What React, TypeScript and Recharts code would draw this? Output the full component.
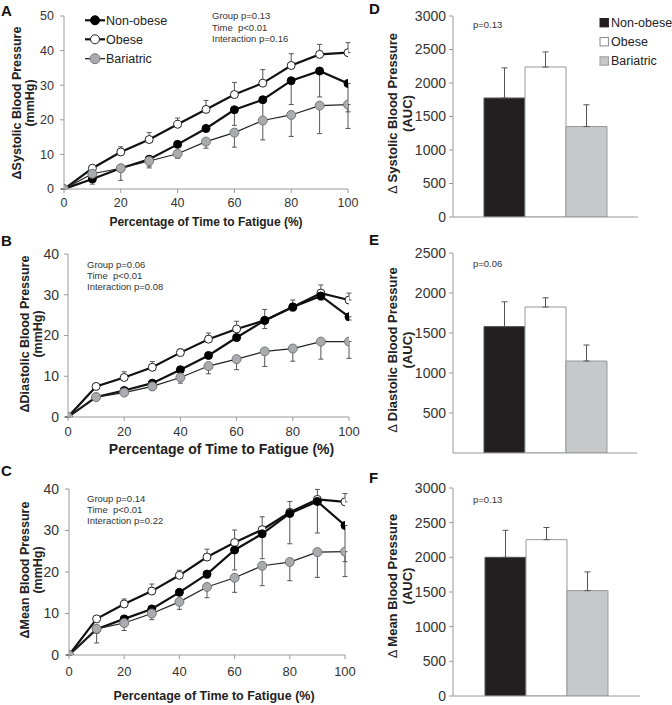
import { LineChart, Line, XAxis, YAxis, ErrorBar, BarChart, Bar, Label } from "recharts";

const FONT = '"Liberation Sans", Arial, sans-serif';

// x positions (% of time to fatigue)
const pct = [0, 10, 20, 30, 40, 50, 60, 70, 80, 90, 100];
const pctTicks = [0, 20, 40, 60, 80, 100];
const groups = ["Non-obese", "Obese", "Bariatric"];

// A: change in systolic BP (mmHg)
const sysNonObese = [0, 2.9, 6.0, 8.6, 12.9, 17.5, 22.9, 25.8, 31.3, 34.1, 30.5];
const sysNonObeseSe = [0, 1.5, 3.5, 2.5, 0.8, 1.0, 4.5, 5.5, 6.9, 7.5, 8.2];
const sysObese = [0, 6.0, 10.7, 14.3, 18.7, 23.0, 27.3, 30.6, 35.7, 38.9, 39.4];
const sysObeseSe = [0, 0.5, 1.5, 2.0, 1.8, 2.6, 3.5, 3.9, 3.4, 2.9, 2.9];
const sysBariatric = [0, 4.4, 6.0, 8.1, 10.2, 13.7, 16.3, 19.8, 21.4, 24.1, 24.4];
const sysBariatricSe = [0, 1.0, 1.0, 1.5, 1.3, 1.9, 4.2, 5.6, 6.2, 8.1, 6.9];

// B: change in diastolic BP (mmHg)
const diaNonObese = [0, 4.9, 6.5, 8.3, 11.6, 15.1, 19.5, 23.7, 27.0, 29.7, 24.6];
const diaNonObeseSe = [0, 0.5, 0.5, 0.6, 0.8, 0.7, 0.8, 2.0, 1.0, 1.0, 0.8];
const diaObese = [0, 7.5, 9.7, 12.2, 15.8, 19.1, 21.6, 23.7, 27.0, 30.4, 28.7];
const diaObeseSe = [0, 0.5, 1.4, 1.4, 0.9, 1.5, 1.9, 2.7, 1.7, 2.0, 1.7];
const diaBariatric = [0, 4.9, 6.0, 7.5, 9.7, 12.5, 14.2, 16.1, 16.8, 18.5, 18.5];
const diaBariatricSe = [0, 0.5, 0.5, 1.0, 1.4, 1.9, 2.6, 3.7, 3.1, 4.3, 4.1];

// C: change in mean BP (mmHg)
const mapNonObese = [0, 6.2, 8.7, 11.1, 15.1, 19.5, 25.3, 29.2, 34.1, 37.0, 31.2];
const mapNonObeseSe = [0, 3.3, 1.0, 1.0, 0.8, 1.0, 4.8, 6.0, 7.3, 7.6, 8.7];
const mapObese = [0, 8.7, 12.3, 15.4, 19.2, 23.6, 27.1, 30.2, 34.4, 37.5, 36.9];
const mapObeseSe = [0, 0.6, 1.2, 1.7, 1.2, 1.9, 3.0, 3.1, 2.6, 2.4, 2.0];
const mapBariatric = [0, 6.3, 7.7, 10.0, 12.8, 16.4, 18.6, 21.5, 22.4, 24.8, 24.9];
const mapBariatricSe = [0, 1.0, 1.8, 1.5, 1.8, 2.6, 3.5, 4.8, 4.5, 6.1, 6.0];

// D-F: area under the curve
const sysAuc = [1776, 2239, 1350];
const sysAucSe = [450, 225, 325];
const diaAuc = [1580, 1825, 1150];
const diaAucSe = [310, 115, 200];
const mapAuc = [2000, 2255, 1520];
const mapAucSe = [390, 175, 270];

const makeRows = (non: number[], nonSe: number[], ob: number[], obSe: number[], bar: number[], barSe: number[]) =>
  pct.map((p, i) => ({
    pct: p,
    nonObese: non[i],
    nonObeseErr: [nonSe[i], 0],
    obese: ob[i],
    obeseErr: [0, obSe[i]],
    bariatric: bar[i],
    bariatricErr: [barSe[i], 0],
  }));

const makeBarRow = (vals: number[], se: number[]) => [
  {
    name: "",
    nonObese: vals[0],
    nonObeseErr: [0, se[0]],
    obese: vals[1],
    obeseErr: [0, se[1]],
    bariatric: vals[2],
    bariatricErr: [0, se[2]],
  },
];

const GREY_DOT = "#a9abae";
const GREY_BAR = "#c7c8ca";
const ERR = "#555";

function LinePanel(p: any) {
  const width = 372;
  const base = p.titleBaseline - p.top;
  return (
    <div style={{ position: "absolute", left: 0, top: p.top, width, height: p.height }}>
      <LineChart
        width={width}
        height={p.height}
        data={p.rows}
        margin={{ top: p.plotTop - p.top, right: width - p.plotRight, left: 0, bottom: p.height - base }}
      >
        <XAxis
          type="number"
          dataKey="pct"
          domain={[0, 100]}
          ticks={pctTicks}
          allowDataOverflow
          stroke="#9a9a9a"
          tickSize={4}
          tickMargin={p.xTickMargin}
          tick={{ fill: "#333", fontSize: p.xTickFont, fontFamily: FONT }}
          height={p.titleBaseline - p.plotBottom}
        >
          <Label
            value="Percentage of Time to Fatigue (%)"
            position="insideBottom"
            offset={0}
            dx={p.titleDx}
            style={{ fontWeight: "bold", fontSize: p.titleFont, fill: "#222", fontFamily: FONT }}
          />
        </XAxis>
        <YAxis
          type="number"
          domain={[0, p.yMax]}
          ticks={p.yTicks}
          allowDataOverflow
          width={p.plotLeft}
          stroke="#9a9a9a"
          tickSize={4}
          tickMargin={p.yTickMargin}
          tick={{ fill: "#333", fontSize: p.yTickFont, fontFamily: FONT }}
        />
        <Line
          dataKey="obese"
          type="linear"
          stroke="#111"
          strokeWidth={2.2}
          dot={{ r: 4, fill: "#fff", stroke: "#222", strokeWidth: 1 }}
          activeDot={false}
          isAnimationActive={false}
        >
          <ErrorBar dataKey="obeseErr" direction="y" width={2.5} stroke={ERR} strokeWidth={1} />
        </Line>
        <Line
          dataKey="nonObese"
          type="linear"
          stroke="#111"
          strokeWidth={2.2}
          dot={{ r: 4, fill: "#000", stroke: "#000", strokeWidth: 1 }}
          activeDot={false}
          isAnimationActive={false}
        >
          <ErrorBar dataKey="nonObeseErr" direction="y" width={2.5} stroke={ERR} strokeWidth={1} />
        </Line>
        <Line
          dataKey="bariatric"
          type="linear"
          stroke="#222"
          strokeWidth={1.2}
          dot={{ r: 4.5, fill: GREY_DOT, stroke: "#777", strokeWidth: 1 }}
          activeDot={false}
          isAnimationActive={false}
        >
          <ErrorBar dataKey="bariatricErr" direction="y" width={2.5} stroke={ERR} strokeWidth={1} />
        </Line>
      </LineChart>
    </div>
  );
}

function BarPanel(p: any) {
  const left = 340;
  const width = 332;
  const axisH = 1;
  return (
    <div style={{ position: "absolute", left, top: p.top, width, height: p.height }}>
      <BarChart
        width={width}
        height={p.height}
        data={p.rows}
        barGap={0}
        barSize={41}
        margin={{
          top: p.plotTop - p.top,
          right: left + width - p.plotRight,
          left: 0,
          bottom: p.height - (p.plotBottom - p.top) - axisH,
        }}
      >
        <XAxis dataKey="name" tick={false} tickLine={false} stroke="#9a9a9a" height={axisH} />
        <YAxis
          type="number"
          domain={[0, p.yMax]}
          ticks={p.yTicks}
          allowDataOverflow
          width={p.plotLeft - left}
          stroke="#9a9a9a"
          tickSize={4}
          tickMargin={3}
          tick={{ fill: "#333", fontSize: 14, fontFamily: FONT }}
        />
        <Bar dataKey="nonObese" fill="#231f20" stroke="#555" isAnimationActive={false}>
          <ErrorBar dataKey="nonObeseErr" direction="y" width={3} stroke={ERR} strokeWidth={1} />
        </Bar>
        <Bar dataKey="obese" fill="#fff" stroke="#999" isAnimationActive={false}>
          <ErrorBar dataKey="obeseErr" direction="y" width={3} stroke={ERR} strokeWidth={1} />
        </Bar>
        <Bar dataKey="bariatric" fill={GREY_BAR} stroke="#999" isAnimationActive={false}>
          <ErrorBar dataKey="bariatricErr" direction="y" width={3} stroke={ERR} strokeWidth={1} />
        </Bar>
      </BarChart>
    </div>
  );
}

function YTitle({ cx, cy, lines, size, gap, thinDelta }: any) {
  return (
    <g>
      {lines.map((t: string, i: number) => {
        const x = cx + i * gap;
        const delta = t.startsWith("Δ");
        return (
          <text
            key={i}
            transform={`translate(${x},${cy}) rotate(-90)`}
            textAnchor="middle"
            dy="0.35em"
            fontSize={size}
            fontWeight="bold"
            fill="#222"
          >
            {delta && thinDelta ? (
              <>
                <tspan fontWeight="normal">Δ </tspan>
                {t.slice(2)}
              </>
            ) : (
              t
            )}
          </text>
        );
      })}
    </g>
  );
}

function Stats({ x, y, lines }: any) {
  return (
    <g>
      {lines.map((t: string, i: number) => (
        <text key={i} x={x} y={y[i] + 3.4} fontSize={9.5} fill="#333" style={{ whiteSpace: "pre" }}>
          {t}
        </text>
      ))}
    </g>
  );
}

const lineLegend = [
  { fill: "#000", stroke: "#000", sw: 2.2, r: 4.5 },
  { fill: "#fff", stroke: "#222", sw: 2.2, r: 4.5 },
  { fill: GREY_DOT, stroke: "#777", sw: 1.2, r: 5 },
];
const barLegend = [
  { fill: "#231f20", stroke: "#231f20" },
  { fill: "#fff", stroke: "#888" },
  { fill: GREY_BAR, stroke: "#999" },
];

export default function App() {
  const rowsA = makeRows(sysNonObese, sysNonObeseSe, sysObese, sysObeseSe, sysBariatric, sysBariatricSe);
  const rowsB = makeRows(diaNonObese, diaNonObeseSe, diaObese, diaObeseSe, diaBariatric, diaBariatricSe);
  const rowsC = makeRows(mapNonObese, mapNonObeseSe, mapObese, mapObeseSe, mapBariatric, mapBariatricSe);
  const legendY = [20.3, 39.3, 58.7];
  const barLegendY = [22.7, 41.7, 61];

  return (
    <div
      style={{
        position: "absolute",
        left: 0,
        top: 0,
        width: 672,
        height: 705,
        background: "#fff",
        fontFamily: FONT,
        overflow: "hidden",
      }}
    >
      <LinePanel
        rows={rowsA}
        top={0}
        height={236}
        plotTop={16}
        plotBottom={189}
        plotLeft={64}
        plotRight={348}
        yMax={50}
        yTicks={[0, 10, 20, 30, 40, 50]}
        yTickFont={12.5}
        yTickMargin={6}
        xTickFont={12.5}
        xTickMargin={5}
        titleBaseline={225.5}
        titleFont={12}
        titleDx={0}
      />
      <LinePanel
        rows={rowsB}
        top={236}
        height={224}
        plotTop={254}
        plotBottom={417}
        plotLeft={68}
        plotRight={349}
        yMax={40}
        yTicks={[0, 10, 20, 30, 40]}
        yTickFont={14}
        yTickMargin={5}
        xTickFont={13}
        xTickMargin={6}
        titleBaseline={454}
        titleFont={14}
        titleDx={13}
      />
      <LinePanel
        rows={rowsC}
        top={460}
        height={245}
        plotTop={489}
        plotBottom={655}
        plotLeft={69}
        plotRight={345}
        yMax={40}
        yTicks={[0, 10, 20, 30, 40]}
        yTickFont={14}
        yTickMargin={6}
        xTickFont={13}
        xTickMargin={8}
        titleBaseline={699.5}
        titleFont={12.5}
        titleDx={7}
      />
      <BarPanel
        rows={makeBarRow(sysAuc, sysAucSe)}
        top={0}
        height={232}
        plotTop={16}
        plotBottom={217}
        plotLeft={453}
        plotRight={638}
        yMax={3000}
        yTicks={[0, 500, 1000, 1500, 2000, 2500, 3000]}
      />
      <BarPanel
        rows={makeBarRow(diaAuc, diaAucSe)}
        top={236}
        height={224}
        plotTop={253}
        plotBottom={453}
        plotLeft={453}
        plotRight={637}
        yMax={2500}
        yTicks={[0, 500, 1000, 1500, 2000, 2500]}
      />
      <BarPanel
        rows={makeBarRow(mapAuc, mapAucSe)}
        top={470}
        height={235}
        plotTop={488}
        plotBottom={696}
        plotLeft={453}
        plotRight={640}
        yMax={3000}
        yTicks={[0, 500, 1000, 1500, 2000, 2500, 3000]}
      />

      <svg
        width={672}
        height={705}
        style={{ position: "absolute", left: 0, top: 0, pointerEvents: "none" }}
        fontFamily={FONT}
      >
        {/* panel letters */}
        <g fontWeight="bold" fontSize={15} fill="#111">
          <text x={1} y={15.5}>A</text>
          <text x={1} y={245.5}>B</text>
          <text x={1} y={475.5}>C</text>
          <text x={369} y={13.5}>D</text>
          <text x={369} y={245}>E</text>
          <text x={369} y={482.5}>F</text>
        </g>

        {/* axis titles */}
        <YTitle cx={17} cy={103} gap={13} size={12.5} lines={["ΔSystolic Blood Pressure", "(mmHg)"]} />
        <YTitle cx={25} cy={334} gap={13} size={12.5} lines={["ΔDiastolic Blood Pressure", "(mmHg)"]} />
        <YTitle cx={25} cy={570} gap={13} size={12.5} lines={["ΔMean Blood Pressure", "(mmHg)"]} />
        <YTitle cx={392} cy={113.5} gap={15} size={13} thinDelta lines={["Δ Systolic Blood Pressure", "(AUC)"]} />
        <YTitle cx={392} cy={350} gap={15} size={13} thinDelta lines={["Δ Diastolic Blood Pressure", "(AUC)"]} />
        <YTitle cx={392} cy={586} gap={15} size={13} thinDelta lines={["Δ Mean Blood Pressure", "(AUC)"]} />

        {/* statistics */}
        <Stats x={212} y={[15.7, 27.3, 39]} lines={["Group p=0.13", "Time  p<0.01", "Interaction p=0.16"]} />
        <Stats x={87} y={[264.3, 275.7, 287]} lines={["Group p=0.06", "Time  p<0.01", "Interaction p=0.08"]} />
        <Stats x={87} y={[498.7, 509.7, 521]} lines={["Group p=0.14", "Time  p<0.01", "Interaction p=0.22"]} />
        <Stats x={473} y={[25]} lines={["p=0.13"]} />
        <Stats x={473} y={[264]} lines={["p=0.06"]} />
        <Stats x={473} y={[499.3]} lines={["p=0.13"]} />

        {/* legend for the line panels */}
        {groups.map((g, i) => (
          <g key={g}>
            <line x1={85} x2={105} y1={legendY[i]} y2={legendY[i]} stroke="#111" strokeWidth={lineLegend[i].sw} />
            <circle cx={95} cy={legendY[i]} r={lineLegend[i].r} fill={lineLegend[i].fill} stroke={lineLegend[i].stroke} />
            <text x={106} y={legendY[i] + 4.3} fontSize={12.5} fill="#222">
              {g}
            </text>
          </g>
        ))}

        {/* legend for the bar panels */}
        {groups.map((g, i) => (
          <g key={"b" + g}>
            <rect
              x={600}
              y={barLegendY[i] - 4.2}
              width={8.4}
              height={8.4}
              fill={barLegend[i].fill}
              stroke={barLegend[i].stroke}
            />
            <text x={611} y={barLegendY[i] + 4.4} fontSize={12.5} fill="#222">
              {g}
            </text>
          </g>
        ))}
      </svg>
    </div>
  );
}
